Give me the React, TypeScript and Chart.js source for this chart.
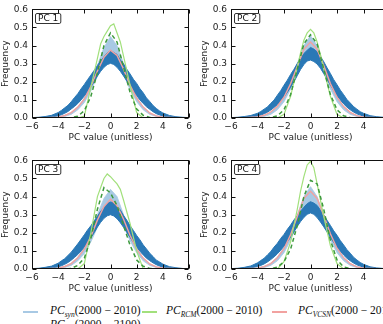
import React, { useEffect, useRef } from "react";
import { Chart, registerables } from "chart.js";
Chart.register(...registerables);

// ---------- data ----------
const X_TICKS = [-6, -4, -2, 0, 2, 4, 6];
const Y_TICKS = [0, 0.1, 0.2, 0.3, 0.4, 0.5, 0.6];

// coarse grid for smooth curves
const X = [-6, -5, -4, -3.5, -3, -2.5, -2, -1.5, -1, -0.5, 0, 0.5, 1, 1.5, 2, 2.5, 3, 3.5, 4, 5, 6];
// grid for RCM (green solid) curves
const GX = [-6, -3, -2.5, -2, -1.5, -1, -0.75, -0.5, -0.25, 0, 0.25, 0.5, 0.75, 1, 1.5, 2, 2.5, 3, 6];
// fine grid for the noisy dark-blue ensemble envelope
const XF = [-6, -5.5, -5, -4.5, -4, -3.75, -3.5, -3.25, -3, -2.75, -2.5, -2.25, -2, -1.75, -1.5, -1.25, -1, -0.75, -0.5, -0.25, 0, 0.25, 0.5, 0.75, 1, 1.25, 1.5, 1.75, 2, 2.25, 2.5, 2.75, 3, 3.25, 3.5, 3.75, 4, 4.5, 5, 5.5, 6];

// PC 1
const P1_RCM = [0, 0, 0, 0.01, 0.17, 0.33, 0.41, 0.45, 0.48, 0.51, 0.52, 0.47, 0.42, 0.34, 0.18, 0.03, 0.0, 0, 0];
const P1_RCM2100 = [0, 0, 0, 0, 0.002, 0.01, 0.04, 0.12, 0.25, 0.4, 0.47, 0.42, 0.28, 0.14, 0.05, 0.015, 0.003, 0, 0, 0, 0];
const P1_SYN_HI = [0, 0.001, 0.006, 0.015, 0.03, 0.06, 0.11, 0.19, 0.29, 0.39, 0.45, 0.4, 0.3, 0.2, 0.115, 0.06, 0.028, 0.012, 0.005, 0.001, 0];
const P1_SYN_LO = [0, 0, 0.003, 0.008, 0.02, 0.045, 0.085, 0.15, 0.23, 0.31, 0.355, 0.32, 0.24, 0.155, 0.09, 0.045, 0.02, 0.008, 0.003, 0, 0];
const P1_VCSN = [0, 0.001, 0.005, 0.014, 0.03, 0.06, 0.105, 0.175, 0.26, 0.335, 0.375, 0.345, 0.27, 0.18, 0.11, 0.06, 0.028, 0.012, 0.004, 0.001, 0];
const P1_FUT_HI = [0.002, 0.004, 0.008, 0.015, 0.03, 0.042, 0.056, 0.07, 0.09, 0.113, 0.134, 0.161, 0.185, 0.212, 0.237, 0.263, 0.29, 0.316, 0.338, 0.359, 0.372, 0.362, 0.351, 0.321, 0.299, 0.269, 0.243, 0.214, 0.191, 0.162, 0.139, 0.111, 0.091, 0.069, 0.053, 0.039, 0.028, 0.014, 0.007, 0.004, 0.002];
const P1_FUT_LO = [0, 0, 0.002, 0.005, 0.012, 0.018, 0.026, 0.036, 0.05, 0.064, 0.08, 0.1, 0.122, 0.146, 0.172, 0.2, 0.232, 0.258, 0.28, 0.295, 0.302, 0.296, 0.28, 0.258, 0.232, 0.204, 0.176, 0.148, 0.124, 0.1, 0.08, 0.062, 0.048, 0.035, 0.024, 0.017, 0.011, 0.005, 0.002, 0, 0];

// PC 2
const P2_RCM = [0, 0, 0, 0.02, 0.12, 0.28, 0.36, 0.43, 0.47, 0.49, 0.47, 0.42, 0.35, 0.27, 0.12, 0.02, 0.0, 0, 0];
const P2_RCM2100 = [0, 0, 0, 0, 0.003, 0.012, 0.045, 0.13, 0.27, 0.41, 0.46, 0.41, 0.27, 0.13, 0.045, 0.012, 0.003, 0, 0, 0, 0];
const P2_SYN_HI = [0, 0.001, 0.006, 0.015, 0.032, 0.065, 0.12, 0.2, 0.3, 0.4, 0.455, 0.4, 0.3, 0.2, 0.12, 0.063, 0.03, 0.013, 0.005, 0.001, 0];
const P2_SYN_LO = [0, 0, 0.003, 0.008, 0.02, 0.045, 0.09, 0.16, 0.25, 0.33, 0.37, 0.33, 0.25, 0.16, 0.09, 0.045, 0.02, 0.008, 0.003, 0, 0];
const P2_VCSN = [0, 0.001, 0.006, 0.015, 0.033, 0.065, 0.115, 0.19, 0.285, 0.38, 0.42, 0.38, 0.29, 0.19, 0.115, 0.063, 0.031, 0.013, 0.005, 0.001, 0];
const P2_FUT_HI = [0.002, 0.004, 0.008, 0.014, 0.026, 0.036, 0.049, 0.061, 0.081, 0.099, 0.126, 0.151, 0.181, 0.209, 0.241, 0.269, 0.301, 0.329, 0.356, 0.374, 0.39, 0.381, 0.366, 0.339, 0.311, 0.277, 0.246, 0.212, 0.184, 0.154, 0.129, 0.102, 0.083, 0.063, 0.049, 0.035, 0.026, 0.013, 0.007, 0.004, 0.002];
const P2_FUT_LO = [0, 0, 0.002, 0.005, 0.011, 0.016, 0.023, 0.032, 0.044, 0.058, 0.074, 0.094, 0.116, 0.142, 0.17, 0.2, 0.234, 0.268, 0.295, 0.315, 0.32, 0.312, 0.298, 0.275, 0.245, 0.214, 0.182, 0.152, 0.124, 0.1, 0.078, 0.06, 0.045, 0.033, 0.023, 0.016, 0.01, 0.004, 0.002, 0, 0];

// PC 3
const P3_RCM = [0, 0, 0, 0.03, 0.2, 0.4, 0.45, 0.5, 0.525, 0.51, 0.49, 0.47, 0.44, 0.38, 0.25, 0.1, 0.0, 0, 0];
const P3_RCM2100 = [0, 0, 0, 0, 0.003, 0.02, 0.06, 0.17, 0.33, 0.45, 0.42, 0.35, 0.24, 0.13, 0.05, 0.015, 0.003, 0, 0, 0, 0];
const P3_SYN_HI = [0, 0.001, 0.006, 0.015, 0.032, 0.065, 0.12, 0.2, 0.3, 0.39, 0.44, 0.4, 0.3, 0.2, 0.115, 0.06, 0.028, 0.012, 0.005, 0.001, 0];
const P3_SYN_LO = [0, 0, 0.003, 0.008, 0.02, 0.045, 0.085, 0.15, 0.23, 0.31, 0.35, 0.32, 0.24, 0.155, 0.09, 0.045, 0.02, 0.008, 0.003, 0, 0];
const P3_VCSN = [0, 0.001, 0.005, 0.014, 0.03, 0.062, 0.11, 0.18, 0.27, 0.345, 0.385, 0.35, 0.275, 0.185, 0.11, 0.06, 0.028, 0.012, 0.004, 0.001, 0];
const P3_FUT_HI = [0.002, 0.004, 0.009, 0.016, 0.032, 0.045, 0.057, 0.075, 0.093, 0.116, 0.139, 0.164, 0.189, 0.216, 0.239, 0.266, 0.291, 0.319, 0.339, 0.363, 0.37, 0.367, 0.347, 0.326, 0.295, 0.269, 0.239, 0.213, 0.185, 0.161, 0.133, 0.111, 0.087, 0.069, 0.049, 0.039, 0.027, 0.013, 0.007, 0.003, 0.001];
const P3_FUT_LO = [0, 0, 0.002, 0.005, 0.012, 0.018, 0.026, 0.036, 0.049, 0.064, 0.08, 0.1, 0.122, 0.147, 0.173, 0.2, 0.232, 0.258, 0.28, 0.294, 0.3, 0.293, 0.278, 0.256, 0.23, 0.202, 0.174, 0.147, 0.122, 0.098, 0.078, 0.06, 0.046, 0.034, 0.024, 0.016, 0.011, 0.005, 0.002, 0, 0];

// PC 4
const P4_RCM = [0, 0, 0, 0.04, 0.15, 0.33, 0.43, 0.51, 0.575, 0.595, 0.56, 0.47, 0.38, 0.29, 0.13, 0.03, 0, 0, 0];
const P4_RCM2100 = [0, 0, 0, 0, 0.002, 0.01, 0.04, 0.11, 0.24, 0.4, 0.49, 0.47, 0.33, 0.16, 0.05, 0.012, 0.002, 0, 0, 0, 0];
const P4_SYN_HI = [0, 0.001, 0.006, 0.015, 0.032, 0.065, 0.12, 0.2, 0.3, 0.4, 0.455, 0.4, 0.3, 0.2, 0.12, 0.063, 0.03, 0.013, 0.005, 0.001, 0];
const P4_SYN_LO = [0, 0, 0.003, 0.008, 0.02, 0.045, 0.09, 0.16, 0.25, 0.33, 0.37, 0.33, 0.25, 0.16, 0.09, 0.045, 0.02, 0.008, 0.003, 0, 0];
const P4_VCSN = [0, 0.001, 0.005, 0.013, 0.03, 0.062, 0.112, 0.19, 0.29, 0.39, 0.43, 0.39, 0.295, 0.195, 0.115, 0.062, 0.029, 0.012, 0.004, 0.001, 0];
const P4_FUT_HI = [0.002, 0.004, 0.009, 0.017, 0.034, 0.047, 0.059, 0.078, 0.096, 0.121, 0.142, 0.169, 0.191, 0.219, 0.243, 0.271, 0.294, 0.319, 0.341, 0.361, 0.372, 0.364, 0.351, 0.325, 0.299, 0.269, 0.241, 0.211, 0.186, 0.157, 0.133, 0.107, 0.087, 0.065, 0.05, 0.036, 0.026, 0.012, 0.006, 0.003, 0.001];
const P4_FUT_LO = [0, 0, 0.002, 0.006, 0.014, 0.02, 0.028, 0.039, 0.052, 0.067, 0.084, 0.104, 0.126, 0.15, 0.176, 0.204, 0.235, 0.262, 0.285, 0.302, 0.31, 0.302, 0.284, 0.26, 0.233, 0.204, 0.175, 0.147, 0.122, 0.098, 0.077, 0.059, 0.045, 0.033, 0.023, 0.016, 0.01, 0.004, 0.002, 0, 0];

const PANEL_LABELS = ["PC 1", "PC 2", "PC 3", "PC 4"];

// ---------- style ----------
const C_FUT = "#2a78b6";
const C_SYN = "#a8c9e4";
const C_RCM = "#a2e07c";
const C_RCM2 = "#3d9a3d";
const C_VCSN = "#f2a2a0";
const FONT = "'DejaVu Sans', sans-serif";

type PanelData = {
  label: string;
  rcm: number[];
  rcm2100: number[];
  synHi: number[];
  synLo: number[];
  vcsn: number[];
  futHi: number[];
  futLo: number[];
};

const PANELS: PanelData[] = [
  { label: PANEL_LABELS[0], rcm: P1_RCM, rcm2100: P1_RCM2100, synHi: P1_SYN_HI, synLo: P1_SYN_LO, vcsn: P1_VCSN, futHi: P1_FUT_HI, futLo: P1_FUT_LO },
  { label: PANEL_LABELS[1], rcm: P2_RCM, rcm2100: P2_RCM2100, synHi: P2_SYN_HI, synLo: P2_SYN_LO, vcsn: P2_VCSN, futHi: P2_FUT_HI, futLo: P2_FUT_LO },
  { label: PANEL_LABELS[2], rcm: P3_RCM, rcm2100: P3_RCM2100, synHi: P3_SYN_HI, synLo: P3_SYN_LO, vcsn: P3_VCSN, futHi: P3_FUT_HI, futLo: P3_FUT_LO },
  { label: PANEL_LABELS[3], rcm: P4_RCM, rcm2100: P4_RCM2100, synHi: P4_SYN_HI, synLo: P4_SYN_LO, vcsn: P4_VCSN, futHi: P4_FUT_HI, futLo: P4_FUT_LO },
];

const pts = (xs: number[], ys: number[]) => xs.map((x, i) => ({ x, y: ys[i] }));

const framePlugin = {
  id: "frame",
  afterDatasetsDraw(chart: any, _args: any, opts: any) {
    const { ctx, chartArea } = chart;
    const { left, right, top, bottom } = chartArea;
    const xs = chart.scales.x;
    const ys = chart.scales.y;
    ctx.save();
    ctx.strokeStyle = "#111";
    ctx.lineWidth = 1;
    const L = Math.round(left) + 0.5;
    const R = Math.round(right) - 0.5;
    const T = Math.round(top) + 0.5;
    const B = Math.round(bottom) - 0.5;
    ctx.strokeRect(L, T, R - L, B - T);
    ctx.beginPath();
    for (const v of X_TICKS) {
      const px = Math.round(xs.getPixelForValue(v)) + 0.5;
      ctx.moveTo(px, B); ctx.lineTo(px, B - 4);
      ctx.moveTo(px, T); ctx.lineTo(px, T + 4);
    }
    for (const v of Y_TICKS) {
      const py = Math.round(ys.getPixelForValue(v)) + 0.5;
      ctx.moveTo(L, py); ctx.lineTo(L + 4, py);
      ctx.moveTo(R, py); ctx.lineTo(R - 4, py);
    }
    ctx.stroke();
    // label box
    const text = opts.label as string;
    ctx.font = `9px ${FONT}`;
    const w = ctx.measureText(text).width;
    const bx = L + 3, by = T + 4, bw = w + 5, bh = 10;
    ctx.fillStyle = "#fff";
    ctx.beginPath();
    const r = 1.5;
    ctx.moveTo(bx + r, by);
    ctx.lineTo(bx + bw - r, by);
    ctx.quadraticCurveTo(bx + bw, by, bx + bw, by + r);
    ctx.lineTo(bx + bw, by + bh - r);
    ctx.quadraticCurveTo(bx + bw, by + bh, bx + bw - r, by + bh);
    ctx.lineTo(bx + r, by + bh);
    ctx.quadraticCurveTo(bx, by + bh, bx, by + bh - r);
    ctx.lineTo(bx, by + r);
    ctx.quadraticCurveTo(bx, by, bx + r, by);
    ctx.closePath();
    ctx.fill();
    ctx.strokeStyle = "#333";
    ctx.stroke();
    ctx.fillStyle = "#111";
    ctx.textBaseline = "middle";
    ctx.fillText(text, bx + 2.5, by + bh / 2 + 0.5);
    ctx.restore();
  },
};

function PanelChart(props: { panel: PanelData; left: number; top: number; width: number; height: number }) {
  const ref = useRef<HTMLCanvasElement>(null);
  const { panel, left, top, width, height } = props;
  useEffect(() => {
    const p = panel;
    const line = (o: any) => ({ pointRadius: 0, tension: 0, fill: false, ...o });
    const chart = new Chart(ref.current as HTMLCanvasElement, {
      type: "line",
      data: {
        datasets: [
          line({ data: pts(X, p.synLo), borderColor: C_SYN, borderWidth: 0.8, order: 20 }),
          line({ data: pts(X, p.synHi), borderColor: C_SYN, borderWidth: 0.8, backgroundColor: C_SYN, fill: 0, order: 19 }),
          line({ data: pts(XF, p.futLo), borderColor: C_FUT, borderWidth: 1, order: 18 }),
          line({ data: pts(XF, p.futHi), borderColor: C_FUT, borderWidth: 1, backgroundColor: C_FUT, fill: 2, order: 17 }),
          line({ data: pts(X, p.vcsn), borderColor: C_VCSN, borderWidth: 1.4, order: 5 }),
          line({ data: pts(GX, p.rcm), borderColor: C_RCM, borderWidth: 1.2, order: 3 }),
          line({ data: pts(X, p.rcm2100), borderColor: C_RCM2, borderWidth: 1.5, borderDash: [4, 3], order: 2 }),
        ],
      },
      options: {
        animation: false,
        responsive: false,
        devicePixelRatio: 1,
        events: [],
        layout: { padding: { top: 5, right: 6, left: 0, bottom: 0 } },
        plugins: {
          legend: { display: false },
          tooltip: { enabled: false },
          frame: { label: p.label },
        } as any,
        scales: {
          x: {
            type: "linear",
            min: -6,
            max: 6,
            grid: { display: false, drawTicks: false },
            border: { display: false },
            afterFit: (s: any) => { s.height = 25; },
            afterBuildTicks: (s: any) => { s.ticks = X_TICKS.map((v) => ({ value: v })); },
            ticks: {
              padding: 3,
              color: "#222",
              font: { family: FONT, size: 9 },
              maxRotation: 0,
              callback: (v: any) => (Number(v) < 0 ? "\u2212" + Math.abs(Number(v)) : String(v)),
            },
            title: { display: true, text: "PC value (unitless)", color: "#222", font: { family: FONT, size: 9 }, padding: 0 },
          },
          y: {
            type: "linear",
            min: 0,
            max: 0.6,
            grid: { display: false, drawTicks: false },
            border: { display: false },
            afterFit: (s: any) => { s.width = 32; },
            afterBuildTicks: (s: any) => { s.ticks = Y_TICKS.map((v) => ({ value: v })); },
            ticks: {
              padding: 4,
              color: "#222",
              font: { family: FONT, size: 9 },
              callback: (v: any) => Number(v).toFixed(1),
            },
            title: { display: true, text: "Frequency", color: "#222", font: { family: FONT, size: 9 }, padding: 0 },
          },
        },
      },
      plugins: [framePlugin],
    } as any);
    return () => chart.destroy();
  }, []);
  return (
    <canvas
      ref={ref}
      width={width}
      height={height}
      style={{ position: "absolute", left, top, width, height }}
    />
  );
}

const LEGEND_ROW1 = [
  { sub: "syn", period: "(2000 \u2212 2010)", color: C_SYN, lineX: 23, textX: 50 },
  { sub: "RCM", period: "(2000 \u2212 2010)", color: C_RCM, lineX: 142, textX: 166 },
  { sub: "VCSN", period: "(2000 \u2212 2010)", color: C_VCSN, lineX: 272, textX: 298 },
];
const LEGEND_ROW2 = [{ sub: "syn", period: "(2000 \u2212 2100)", color: C_FUT, lineX: 23, textX: 50 }];

function LegendItem(props: { item: any; y: number }) {
  const { item, y } = props;
  return (
    <>
      <div style={{ position: "absolute", left: item.lineX, top: y, width: 15, height: 1.5, background: item.color }} />
      <div
        style={{
          position: "absolute",
          left: item.textX,
          top: y - 8,
          whiteSpace: "nowrap",
          fontFamily: "'Liberation Serif', 'DejaVu Serif', serif",
          fontSize: 11.5,
          lineHeight: "14px",
          color: "#111",
        }}
      >
        <span style={{ fontStyle: "italic" }}>PC</span>
        <span style={{ fontStyle: "italic", fontSize: 7.5, position: "relative", top: 3 }}>{item.sub}</span>
        <span>{item.period}</span>
      </div>
    </>
  );
}

export default function App() {
  return (
    <div style={{ position: "absolute", left: 0, top: 0, width: 383, height: 324, overflow: "hidden", background: "#fff" }}>
      <PanelChart panel={PANELS[0]} left={0} top={0} width={195} height={143} />
      <PanelChart panel={PANELS[1]} left={199} top={0} width={197} height={143} />
      <PanelChart panel={PANELS[2]} left={0} top={151} width={195} height={143} />
      <PanelChart panel={PANELS[3]} left={199} top={151} width={197} height={143} />
      {LEGEND_ROW1.map((it, i) => (
        <LegendItem key={"a" + i} item={it} y={311} />
      ))}
      {LEGEND_ROW2.map((it, i) => (
        <LegendItem key={"b" + i} item={it} y={325} />
      ))}
    </div>
  );
}
